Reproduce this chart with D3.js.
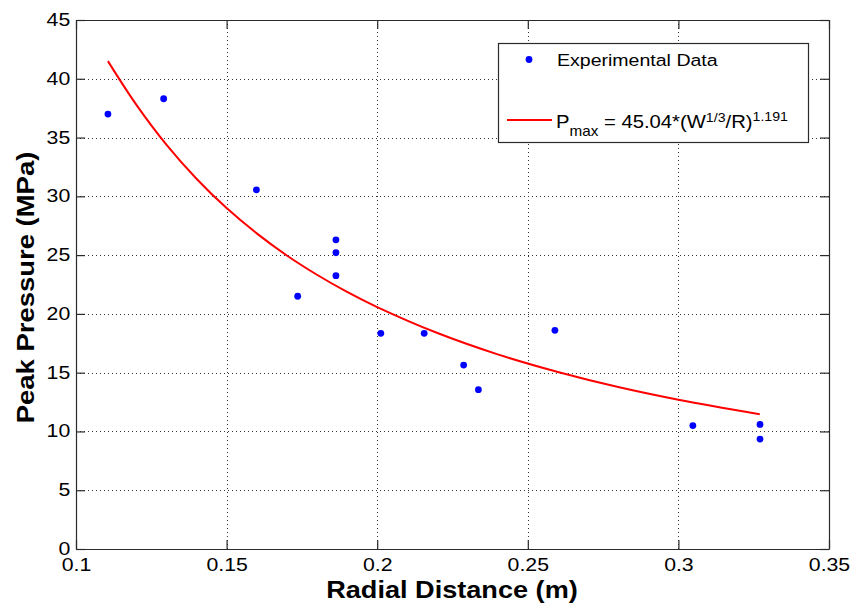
<html>
<head>
  <title>Peak pressure vs radial distance</title>
  <script src="https://cdn.jsdelivr.net/npm/d3@7"></script>
  <style>
    body { margin: 0; background: #fff; }
    text { font-family: "Liberation Sans", Arial, sans-serif; }
  </style>
</head>
<body>
  <script>
    // chart size
    const w = 860;
    const h = 604;
    const padLeft = 76, padRight = 829, padTop = 20, padBottom = 549;
    const stretch = 1.15; // matlab text looks a bit wider than Liberation Sans

    const radius = [0.1106, 0.1291, 0.1599, 0.1736, 0.1863, 0.1863, 0.1863, 0.2012,
      0.2156, 0.2287, 0.2336, 0.259, 0.3048, 0.3271, 0.3271];
    const pressure = [37.0, 38.3, 30.55, 21.5, 26.3, 25.2, 23.25, 18.35,
      18.35, 15.65, 13.55, 18.6, 10.5, 10.6, 9.35];

    // fitted curve
    const fitR = [0.1106, 0.12, 0.13, 0.14, 0.15, 0.16, 0.17, 0.18, 0.19, 0.2,
      0.22, 0.24, 0.26, 0.28, 0.3, 0.327];
    const fitP = [41.5, 37.8, 34.4, 31.5, 29.0, 26.85, 24.97, 23.33, 21.87, 20.58,
      18.37, 16.56, 15.06, 13.78, 12.7, 11.47];

    // tick values
    const xTicks = [0.1, 0.15, 0.2, 0.25, 0.3, 0.35];
    const yTicks = [0, 5, 10, 15, 20, 25, 30, 35, 40, 45];

    const xScale = d3.scaleLinear().domain([0.1, 0.35]).range([padLeft, padRight]);
    const yScale = d3.scaleLinear().domain([0, 45]).range([padBottom, padTop]);

    const svg = d3.select("body").append("svg")
      .attr("width", w)
      .attr("height", h);

    svg.append("rect").attr("width", w).attr("height", h).attr("fill", "#fff");

    // dotted grid
    const grid = svg.append("g")
      .attr("stroke", "#333")
      .attr("stroke-width", 1)
      .attr("stroke-dasharray", "1,3");
    grid.selectAll(".gx")
      .data(xTicks.slice(1, -1))
      .enter().append("line")
      .attr("x1", d => Math.round(xScale(d)) + 0.5)
      .attr("x2", d => Math.round(xScale(d)) + 0.5)
      .attr("y1", padTop)
      .attr("y2", padBottom);
    grid.selectAll(".gy")
      .data(yTicks.slice(1, -1))
      .enter().append("line")
      .attr("y1", d => Math.round(yScale(d)) + 0.5)
      .attr("y2", d => Math.round(yScale(d)) + 0.5)
      .attr("x1", padLeft)
      .attr("x2", padRight);

    // fit line
    const line = d3.line()
      .x((d, i) => xScale(fitR[i]))
      .y(d => yScale(d))
      .curve(d3.curveCatmullRom);
    svg.append("path")
      .datum(fitP)
      .attr("d", line)
      .attr("fill", "none")
      .attr("stroke", "#ff0000")
      .attr("stroke-width", 2);

    // data points
    svg.selectAll(".pt")
      .data(pressure)
      .enter().append("circle")
      .attr("cx", (d, i) => xScale(radius[i]))
      .attr("cy", d => yScale(d))
      .attr("r", 3.4)
      .attr("fill", "#0000ff");

    // axes, ticks point inward like matlab
    const xAxis = d3.axisBottom(xScale).tickValues(xTicks).tickSize(-9).tickSizeOuter(0)
      .tickPadding(9).tickFormat(d3.format("~g"));
    const yAxis = d3.axisLeft(yScale).tickValues(yTicks).tickSize(-9).tickSizeOuter(0)
      .tickPadding(5);
    const xTop = d3.axisTop(xScale).tickValues(xTicks).tickSize(-9).tickSizeOuter(0).tickFormat("");
    const yRight = d3.axisRight(yScale).tickValues(yTicks).tickSize(-9).tickSizeOuter(0).tickFormat("");

    function styleAxis(g) {
      g.selectAll("path, line").attr("stroke", "#2a2a2a").attr("stroke-width", 1.2);
      g.selectAll("text").attr("font-size", 18.5).attr("fill", "#000")
        .attr("font-family", "'Liberation Sans', Arial, sans-serif")
        .attr("transform", "scale(" + stretch + ",1)");
    }

    svg.append("g").attr("transform", "translate(0," + padBottom + ")").call(xAxis).call(styleAxis);
    const yG = svg.append("g").attr("transform", "translate(" + padLeft + ",0)").call(yAxis).call(styleAxis);
    yG.selectAll("text").attr("dy", "0.3em");
    svg.append("g").attr("transform", "translate(0," + padTop + ")").call(xTop).call(styleAxis);
    svg.append("g").attr("transform", "translate(" + padRight + ",0)").call(yRight).call(styleAxis);

    // axis titles
    svg.append("text")
      .attr("transform", "translate(452,598) scale(1.13,1)")
      .attr("text-anchor", "middle")
      .attr("font-size", 24)
      .attr("font-weight", "bold")
      .text("Radial Distance (m)");

    svg.append("text")
      .attr("transform", "translate(33.5,287.5) rotate(-90) scale(1.145,1)")
      .attr("text-anchor", "middle")
      .attr("font-size", 24)
      .attr("font-weight", "bold")
      .text("Peak Pressure (MPa)");

    // legend
    const legend = svg.append("g");
    legend.append("rect")
      .attr("x", 498.5).attr("y", 43.5)
      .attr("width", 310).attr("height", 99)
      .attr("fill", "#fff")
      .attr("stroke", "#2a2a2a")
      .attr("stroke-width", 1.2);
    legend.append("circle")
      .attr("cx", 529).attr("cy", 59.5).attr("r", 3.4)
      .attr("fill", "#0000ff");
    legend.append("text")
      .attr("transform", "translate(557,65.5) scale(1.15,1)")
      .attr("font-size", 17)
      .text("Experimental Data");
    legend.append("line")
      .attr("x1", 507).attr("x2", 552)
      .attr("y1", 120).attr("y2", 120)
      .attr("stroke", "#ff0000").attr("stroke-width", 2);

    const eq = legend.append("text")
      .attr("transform", "translate(556,128.3) scale(1.09,1)")
      .attr("font-size", 18.6);
    eq.append("tspan").text("P");
    eq.append("tspan").attr("dy", 7.5).attr("font-size", 14).text("max");
    eq.append("tspan").attr("dy", -7.5).text(" = 45.04*(W");
    eq.append("tspan").attr("dy", -6).attr("font-size", 13).text("1/3");
    eq.append("tspan").attr("dy", 6).text("/R)");
    eq.append("tspan").attr("dy", -7).attr("font-size", 13).text("1.191");
  </script>
</body>
</html>
